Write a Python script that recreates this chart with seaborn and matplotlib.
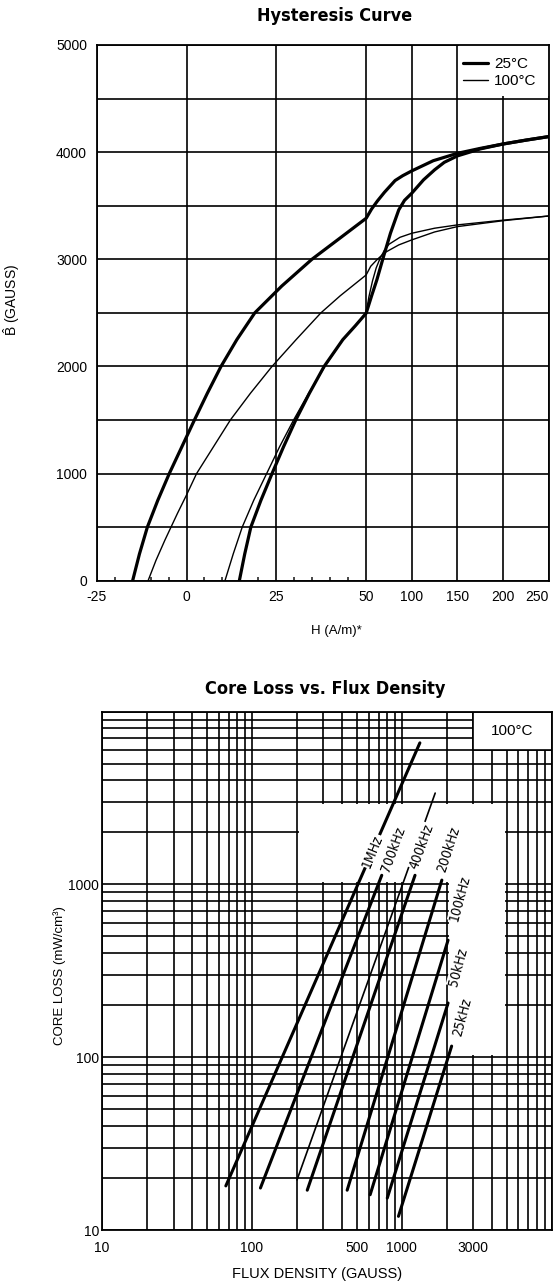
import numpy as np
import matplotlib
matplotlib.use("Agg")
import matplotlib.pyplot as plt
import seaborn as sns
from matplotlib.patches import Rectangle
from matplotlib import font_manager
from matplotlib.font_manager import FontProperties
from matplotlib.ticker import FixedLocator, LogLocator, NullFormatter

# ----------------------------
# Hysteresis data (H in A/m, B in gauss)
# ----------------------------
h25_left = [-15.0, -13.1, -10.9, -8.0, -4.8, -1.3, 2.2, 5.8, 9.6, 14.0, 19.0,
            26.5, 34.9, 42.8, 50.0, 56.0, 62.4, 70.0, 81.7, 90.0, 100, 123.5,
            150, 175, 200, 225, 250]
b25_left = [0, 250, 500, 750, 1000, 1250, 1500, 1750, 2000, 2250, 2500,
            2750, 3000, 3200, 3383, 3470, 3545, 3625, 3735, 3780, 3825, 3920,
            3989, 4035, 4076, 4112, 4145]
h25_right = [14.7, 16.2, 17.9, 20.7, 23.8, 27.0, 30.4, 34.2, 38.3, 43.5, 47.0,
             50.0, 56.0, 61.7, 69.0, 76.6, 85.7, 92.0, 100, 112.8, 125, 135.6,
             150, 175, 200, 225, 250]
b25_right = [0, 250, 500, 750, 1000, 1250, 1500, 1750, 2000, 2250, 2380,
             2497, 2660, 2808, 3025, 3243, 3461, 3550, 3617, 3741, 3835, 3905,
             3965, 4030, 4076, 4112, 4145]

h100_left = [-10.7, -8.5, -6.0, -2.5, 0.0, 2.8, 7.5, 12.2, 17.8, 23.8, 30.5,
             37.4, 42.8, 50.0, 55.0, 61.7, 70.0, 85.7, 100, 125, 150, 200, 250]
b100_left = [0, 190, 380, 630, 800, 1000, 1250, 1500, 1750, 2000, 2250,
             2500, 2660, 2854, 2935, 2995, 3060, 3134, 3181, 3255, 3305, 3360, 3404]
h100_right = [10.7, 13.0, 15.5, 18.7, 22.3, 25.9, 29.8, 34.0, 38.5, 43.5, 47.5,
              50.0, 53.0, 57.0, 61.0, 65.3, 70.0, 75.0, 87.0, 100, 125, 150, 200, 250]
b100_right = [0, 250, 500, 750, 1000, 1250, 1500, 1750, 2000, 2250, 2400,
              2500, 2650, 2800, 2920, 3010, 3085, 3140, 3205, 3243, 3290, 3321, 3365, 3404]

h_ticks = [-25, 0, 25, 50, 100, 150, 200, 250]
b_ticks = [0, 500, 1000, 1500, 2000, 2500, 3000, 3500, 4000, 4500, 5000]

# ----------------------------
# Core loss data (flux density in gauss, loss in mW/cm^3)
# ----------------------------
loss_b_start = [67, 114, 200, 234, 432, 615, 800, 950]
loss_p_start = [18.0, 17.5, 19.5, 17.0, 17.0, 16.0, 15.3, 12.0]
loss_b_end = [1320, 735, 1670, 1225, 1850, 2035, 2035, 2150]
loss_p_end = [6600, 1130, 3380, 1130, 1060, 476, 206, 116]

freq_labels = ["1MHz", "700kHz", "400kHz", "200kHz", "100kHz", "50kHz", "25kHz"]
label_b = [634, 875, 1355, 2065, 2450, 2371, 2543]
label_p = [1560, 1603, 1667, 1603, 834, 333, 171]
label_rot = [68, 70, 70, 72, 75, 75, 75]

flux_ticks = [10, 100, 500, 1000, 3000]
loss_ticks = [10, 100, 1000]

# ----------------------------
# Style
# ----------------------------
sns.set_style("white")
plt.rcParams["font.family"] = ["Liberation Sans", "DejaVu Sans"]
plt.rcParams["mathtext.fontset"] = "custom"
plt.rcParams["mathtext.rm"] = "Liberation Sans"
plt.rcParams["text.color"] = "black"
plt.rcParams["axes.labelcolor"] = "black"


def condensed_font(bold):
    # look for any narrow / condensed sans face that is installed
    for f in font_manager.fontManager.ttflist:
        nm = f.name.lower()
        if "mono" in nm or "serif" in nm:
            continue
        cond = ("narrow" in nm or "condensed" in nm
                or str(f.stretch) in ("condensed", "semi-condensed", "extra-condensed"))
        w = f.weight if isinstance(f.weight, int) else (700 if f.weight in ("bold", "heavy", "black") else 400)
        if cond and (w >= 700) == bold and f.style == "normal":
            return f.fname
    return None


bold_cond = condensed_font(True)
reg_cond = condensed_font(False)
if bold_cond:
    title_font = FontProperties(fname=bold_cond, size=13)
else:
    title_font = FontProperties(family="Liberation Sans", weight="bold", size=12.5)
if reg_cond:
    freq_font = FontProperties(fname=reg_cond, size=10)
else:
    freq_font = FontProperties(family="Liberation Sans", size=9.5)

W, H = 558, 1286
fig = plt.figure(figsize=(W / 100, H / 100), dpi=100)
ax1 = fig.add_axes([96.7 / W, 1 - 580.7 / H, 452 / W, 535.7 / H])
ax2 = fig.add_axes([102 / W, 1 - 1230 / H, 449.7 / W, 518.3 / H])

grid_kw = dict(color="black", linewidth=1.2)


# ----------------------------
# Hysteresis plot (x axis compressed above 50 A/m)
# ----------------------------
def fwd(h):
    h = np.asarray(h, float)
    return np.where(h <= 50, h, 50 + (h - 50) * 0.254)


def inv(p):
    p = np.asarray(p, float)
    return np.where(p <= 50, p, 50 + (p - 50) / 0.254)


ax1.set_xscale("function", functions=(fwd, inv))
ax1.set_xlim(-25, 250)
ax1.set_ylim(0, 5000)

sns.lineplot(x=h25_left, y=b25_left, sort=False, estimator=None, ax=ax1,
             color="black", linewidth=2.3, label="25°C")
sns.lineplot(x=h25_right, y=b25_right, sort=False, estimator=None, ax=ax1,
             color="black", linewidth=2.3, label="_nolegend_")
sns.lineplot(x=h100_left, y=b100_left, sort=False, estimator=None, ax=ax1,
             color="black", linewidth=1.0, label="100°C")
sns.lineplot(x=h100_right, y=b100_right, sort=False, estimator=None, ax=ax1,
             color="black", linewidth=1.0, label="_nolegend_")

ax1.set_xticks(h_ticks)
ax1.set_xticklabels([str(t) for t in h_ticks])
ax1.get_xticklabels()[-1].set_horizontalalignment("right")
ax1.xaxis.set_minor_locator(FixedLocator([v for v in range(-20, 50, 5) if v % 25]))
ax1.set_yticks(b_ticks)
ax1.set_yticklabels([str(t) if t % 1000 == 0 else "" for t in b_ticks])
ax1.set_axisbelow(True)
ax1.grid(True, which="major", **grid_kw)
ax1.tick_params(which="major", length=0, labelsize=10, colors="black")
ax1.tick_params(axis="x", which="major", pad=7)
ax1.tick_params(axis="y", which="major", pad=7)
ax1.tick_params(axis="x", which="minor", direction="in", length=3, width=1.2,
                bottom=True, top=False)

# legend area cleared of the grid
ax1.add_patch(Rectangle((152, 4520), 98, 480, facecolor="white",
                        edgecolor="none", zorder=1))
ax1.legend(loc="upper right", frameon=False, fontsize=11, handlelength=1.6,
           handletextpad=0.4, labelspacing=0.2, borderaxespad=0.4)

ax1.set_xlabel("H (A/m)*", fontsize=9.5)
ax1.set_ylabel(r"$\hat{\mathrm{B}}$ (GAUSS)", fontsize=10)
ax1.xaxis.set_label_coords(0.53, -0.083)
ax1.yaxis.set_label_coords(-0.165, 0.524)
for s in ax1.spines.values():
    s.set_color("black")
    s.set_linewidth(1.3)

fig.text(335 / W, 1 - 16 / H, "Hysteresis Curve", ha="center", va="center",
         fontproperties=title_font, color="black")

# ----------------------------
# Core loss plot
# ----------------------------
ax2.set_xscale("log")
ax2.set_yscale("log")
ax2.set_xlim(10, 10000)
ax2.set_ylim(10, 10000)

for i in range(len(loss_b_start)):
    sns.lineplot(x=[loss_b_start[i], loss_b_end[i]],
                 y=[loss_p_start[i], loss_p_end[i]],
                 sort=False, estimator=None, ax=ax2, color="black",
                 linewidth=1.2 if i == 2 else 2.2, zorder=2)

ax2.xaxis.set_major_locator(FixedLocator(flux_ticks))
ax2.set_xticklabels([str(t) for t in flux_ticks])
ax2.xaxis.set_minor_locator(LogLocator(base=10, subs=np.arange(1, 10), numticks=100))
ax2.xaxis.set_minor_formatter(NullFormatter())
ax2.yaxis.set_major_locator(FixedLocator(loss_ticks))
ax2.set_yticklabels([str(t) for t in loss_ticks])
ax2.yaxis.set_minor_locator(LogLocator(base=10, subs=np.arange(1, 10), numticks=100))
ax2.yaxis.set_minor_formatter(NullFormatter())
ax2.set_axisbelow(True)
ax2.grid(True, which="both", **grid_kw)
ax2.tick_params(which="both", length=0, labelsize=10, colors="black")
ax2.tick_params(axis="x", which="major", pad=8)
ax2.tick_params(axis="y", which="major", pad=2)

# blank areas of the printed grid
k = 1.03
ax2.add_patch(Rectangle((200 * k, 1000 * k), 5000 / k - 200 * k, 3000 / k - 1000 * k,
                        facecolor="white", edgecolor="none", zorder=1))
ax2.add_patch(Rectangle((2000 * k, 100 * k), 5000 / k - 2000 * k, 3000 / k - 100 * k,
                        facecolor="white", edgecolor="none", zorder=1))
ax2.add_patch(Rectangle((3000, 6000), 7000, 4000, facecolor="white",
                        edgecolor="black", linewidth=1.2, zorder=1.5))
ax2.text(np.sqrt(3000 * 10000), np.sqrt(6000 * 10000), "100°C", fontsize=11,
         ha="center", va="center", zorder=3)

for lab, bx, py, rot in zip(freq_labels, label_b, label_p, label_rot):
    ax2.text(bx, py, lab, rotation=rot, rotation_mode="anchor", ha="center",
             va="center", fontproperties=freq_font, zorder=3,
             bbox=dict(facecolor="white", edgecolor="none", pad=0.3))

ax2.set_xlabel("FLUX DENSITY (GAUSS)", fontsize=10.5)
ax2.set_ylabel("CORE LOSS (mW/cm³)", fontsize=9.5)
ax2.xaxis.set_label_coords(0.479, -0.071)
ax2.yaxis.set_label_coords(-0.081, 0.49)
for s in ax2.spines.values():
    s.set_color("black")
    s.set_linewidth(1.3)

fig.text(325 / W, 1 - 689 / H, "Core Loss vs. Flux Density", ha="center",
         va="center", fontproperties=title_font, color="black")

fig.savefig("out.png", dpi=100)
